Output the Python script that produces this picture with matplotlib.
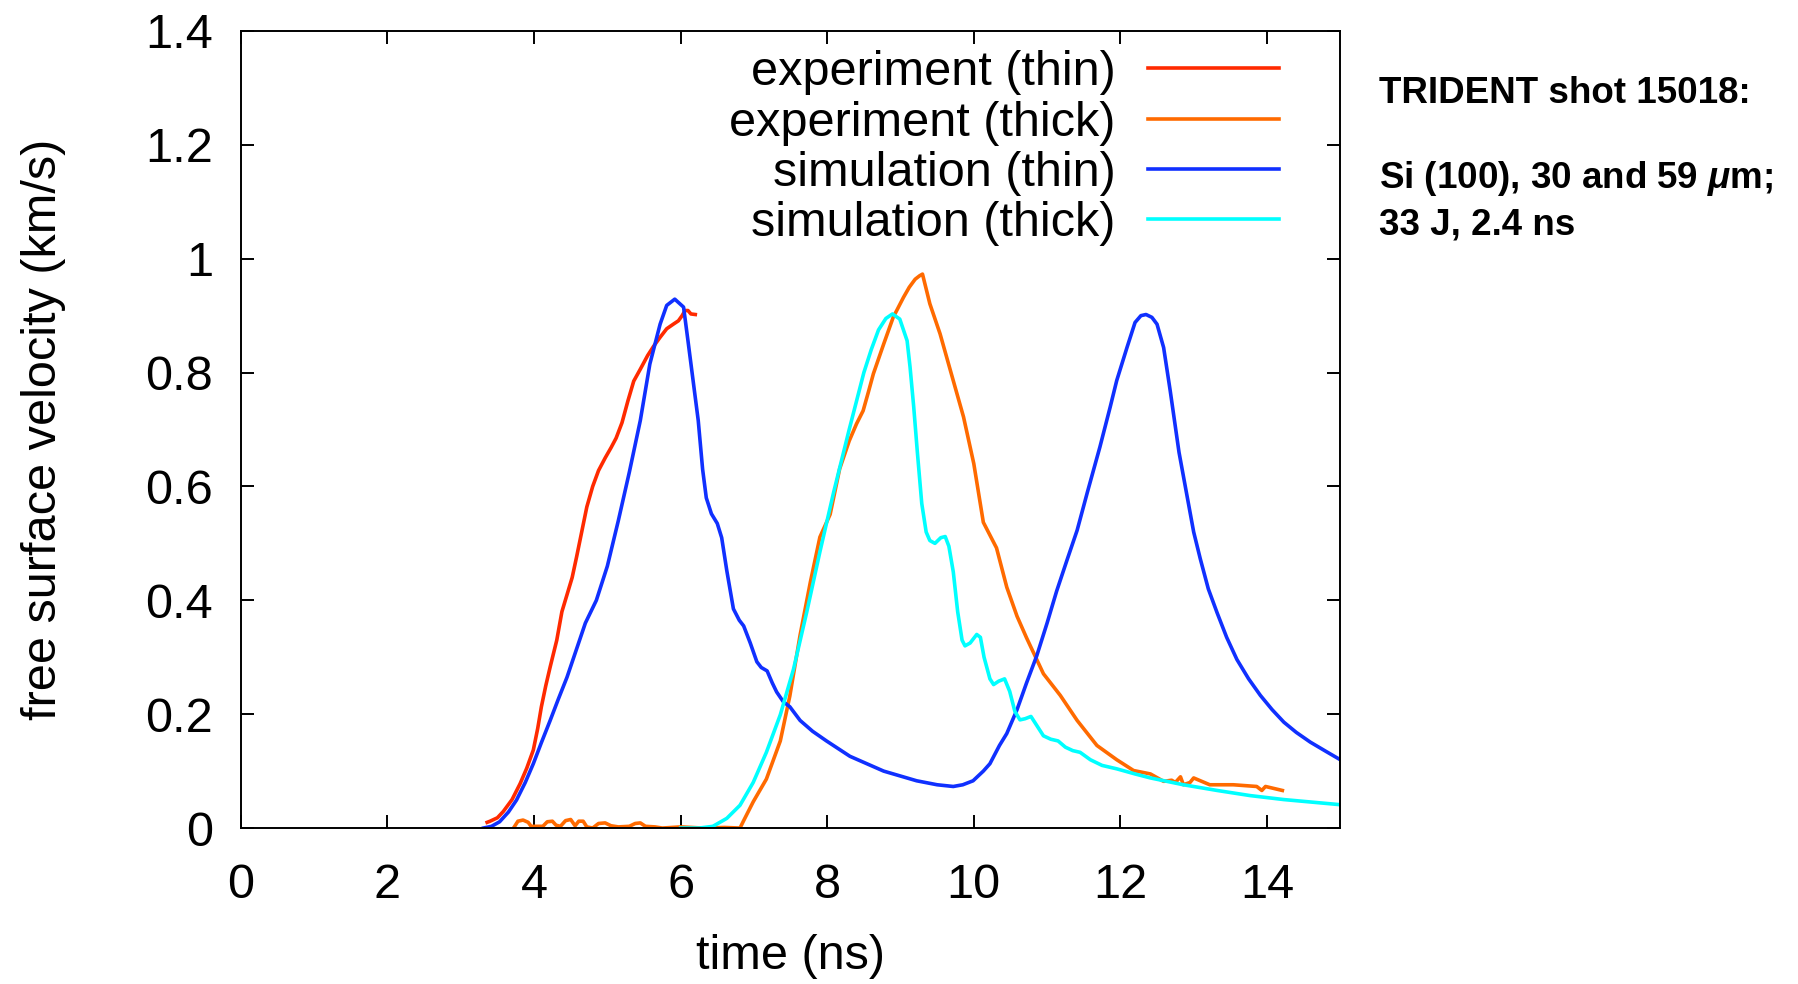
import numpy as np
import matplotlib
matplotlib.use('Agg')
import matplotlib.pyplot as plt

# data (time in ns, velocity in km/s)
t_exp_thin = [3.36, 3.40, 3.50, 3.58, 3.70, 3.81, 3.90, 3.99, 4.05, 4.10, 4.16,
              4.22, 4.31, 4.38, 4.45, 4.52, 4.58, 4.65, 4.72, 4.80, 4.88, 4.97,
              5.05, 5.12, 5.20, 5.28, 5.36, 5.45, 5.55, 5.63, 5.72, 5.81, 5.90,
              5.97, 6.02, 6.06, 6.10, 6.14, 6.20]
v_exp_thin = [0.010, 0.012, 0.018, 0.029, 0.050, 0.078, 0.105, 0.137, 0.175,
              0.213, 0.250, 0.283, 0.330, 0.380, 0.410, 0.440, 0.476, 0.520,
              0.564, 0.600, 0.628, 0.650, 0.668, 0.685, 0.712, 0.750, 0.785,
              0.806, 0.830, 0.846, 0.862, 0.877, 0.885, 0.891, 0.900, 0.909,
              0.909, 0.903, 0.902]

t_exp_thick = [3.72, 3.78, 3.85, 3.92, 3.96, 4.05, 4.12, 4.18, 4.25, 4.30, 4.36,
               4.43, 4.50, 4.56, 4.61, 4.67, 4.72, 4.80, 4.88, 4.97, 5.05, 5.15,
               5.30, 5.38, 5.45, 5.52, 5.65, 5.75, 6.00, 6.30, 6.60, 6.81, 6.86,
               6.99, 7.17, 7.36, 7.49, 7.63, 7.77, 7.90, 8.04, 8.17, 8.30, 8.40,
               8.49, 8.56, 8.63, 8.77, 8.90, 9.04, 9.12, 9.20, 9.26, 9.30, 9.40,
               9.54, 9.68, 9.86, 10.00, 10.13, 10.31, 10.45, 10.59, 10.72, 10.95,
               11.18, 11.41, 11.68, 11.95, 12.18, 12.41, 12.59, 12.70, 12.75,
               12.82, 12.86, 12.95, 13.00, 13.22, 13.54, 13.86, 13.93, 13.98,
               14.21]
v_exp_thick = [0.000, 0.012, 0.014, 0.010, 0.003, 0.003, 0.003, 0.011, 0.012,
               0.005, 0.003, 0.013, 0.015, 0.004, 0.012, 0.012, 0.002, 0.000,
               0.008, 0.009, 0.004, 0.002, 0.003, 0.008, 0.009, 0.003, 0.002,
               0.000, 0.002, 0.000, 0.001, 0.000, 0.013, 0.046, 0.086, 0.153,
               0.232, 0.339, 0.432, 0.511, 0.551, 0.631, 0.680, 0.710, 0.733,
               0.765, 0.798, 0.850, 0.897, 0.932, 0.950, 0.964, 0.970, 0.973,
               0.921, 0.868, 0.804, 0.722, 0.640, 0.537, 0.492, 0.423, 0.372,
               0.334, 0.271, 0.233, 0.189, 0.145, 0.120, 0.101, 0.095, 0.082,
               0.084, 0.080, 0.090, 0.076, 0.080, 0.088, 0.076, 0.076, 0.073,
               0.066, 0.073, 0.066]

t_sim_thin = [3.31, 3.42, 3.53, 3.65, 3.76, 3.88, 3.99, 4.10, 4.22, 4.33, 4.45,
              4.60, 4.70, 4.85, 5.00, 5.15, 5.30, 5.45, 5.58, 5.72, 5.81, 5.92,
              6.04, 6.10, 6.17, 6.24, 6.30, 6.35, 6.42, 6.50, 6.56, 6.63, 6.72,
              6.80, 6.86, 6.95, 7.04, 7.10, 7.18, 7.25, 7.31, 7.40, 7.49, 7.63,
              7.80, 7.99, 8.31, 8.77, 9.22, 9.50, 9.72, 9.85, 9.99, 10.13, 10.22,
              10.35, 10.45, 10.59, 10.72, 10.86, 11.00, 11.13, 11.27, 11.41,
              11.55, 11.72, 11.86, 11.95, 12.09, 12.20, 12.28, 12.35, 12.43,
              12.50, 12.59, 12.68, 12.80, 12.90, 13.00, 13.09, 13.20, 13.32,
              13.45, 13.59, 13.75, 13.91, 14.07, 14.23, 14.40, 14.59, 14.80,
              15.00]
v_sim_thin = [0.000, 0.003, 0.011, 0.028, 0.049, 0.080, 0.113, 0.150, 0.189,
              0.226, 0.265, 0.322, 0.360, 0.400, 0.460, 0.540, 0.625, 0.716,
              0.815, 0.885, 0.918, 0.929, 0.915, 0.856, 0.786, 0.716, 0.630,
              0.580, 0.552, 0.535, 0.510, 0.452, 0.385, 0.365, 0.355, 0.325,
              0.292, 0.282, 0.276, 0.255, 0.239, 0.222, 0.213, 0.189, 0.170,
              0.153, 0.126, 0.100, 0.083, 0.076, 0.073, 0.076, 0.083, 0.100,
              0.113, 0.145, 0.166, 0.208, 0.255, 0.303, 0.360, 0.416, 0.470,
              0.523, 0.590, 0.669, 0.739, 0.786, 0.844, 0.888, 0.900, 0.902,
              0.897, 0.885, 0.844, 0.768, 0.660, 0.590, 0.520, 0.473, 0.420,
              0.378, 0.335, 0.296, 0.262, 0.233, 0.208, 0.186, 0.168, 0.151,
              0.135, 0.120]

t_sim_thick = [6.00, 6.26, 6.44, 6.63, 6.81, 6.99, 7.17, 7.36, 7.54, 7.72, 7.90,
               8.09, 8.30, 8.42, 8.50, 8.60, 8.70, 8.80, 8.89, 8.99, 9.09, 9.13,
               9.18, 9.23, 9.29, 9.35, 9.40, 9.47, 9.55, 9.61, 9.66, 9.72, 9.78,
               9.84, 9.88, 9.95, 10.04, 10.09, 10.14, 10.22, 10.27, 10.34, 10.42,
               10.49, 10.56, 10.63, 10.70, 10.78, 10.86, 10.95, 11.05, 11.15,
               11.25, 11.35, 11.45, 11.59, 11.75, 11.95, 12.20, 12.41, 12.86,
               13.32, 13.77, 14.23, 15.00]
v_sim_thick = [0.000, 0.000, 0.003, 0.017, 0.040, 0.080, 0.133, 0.199, 0.279,
               0.379, 0.485, 0.591, 0.700, 0.760, 0.800, 0.840, 0.875, 0.895,
               0.903, 0.894, 0.856, 0.810, 0.740, 0.660, 0.570, 0.520, 0.505,
               0.500, 0.510, 0.512, 0.495, 0.450, 0.380, 0.330, 0.320, 0.325,
               0.340, 0.335, 0.300, 0.262, 0.252, 0.258, 0.262, 0.240, 0.205,
               0.190, 0.192, 0.196, 0.180, 0.162, 0.156, 0.153, 0.142, 0.136,
               0.133, 0.120, 0.110, 0.104, 0.095, 0.088, 0.076, 0.066, 0.057,
               0.050, 0.041]

labels = ['experiment (thin)', 'experiment (thick)',
          'simulation (thin)', 'simulation (thick)']
colors = ['#ff2a00', '#ff6a00', '#1030ff', '#00ffff']

plt.rcParams['font.family'] = ['Liberation Sans', 'DejaVu Sans']
plt.rcParams['mathtext.fontset'] = 'custom'
plt.rcParams['mathtext.it'] = 'Liberation Sans:italic:bold'

fig = plt.figure(figsize=(17.99, 9.84), dpi=100)
ax = fig.add_axes([0.1339, 0.1585, 0.6111, 0.8100])

series = [(t_exp_thin, v_exp_thin), (t_exp_thick, v_exp_thick),
          (t_sim_thin, v_sim_thin), (t_sim_thick, v_sim_thick)]
for (t, v), lab, c in zip(series, labels, colors):
    ax.plot(t, v, color=c, lw=2.6, label=lab, solid_joinstyle='round')

ax.set_xlim(0, 15)
ax.set_ylim(0, 1.4)
ax.set_xticks(np.arange(0, 15, 2))
ax.set_yticks(np.arange(0, 1.41, 0.2))
ax.set_yticklabels(['0', '0.2', '0.4', '0.6', '0.8', '1', '1.2', '1.4'])
ax.tick_params(direction='in', length=9.5, width=1.4, labelsize=35,
               top=True, right=True)
ax.tick_params(axis='y', pad=20)
ax.tick_params(axis='x', pad=25)
for s in ax.spines.values():
    s.set_linewidth(1.4)

ax.set_xlabel('time (ns)', fontsize=35, labelpad=19)
ax.set_ylabel('free surface velocity (km/s)', fontsize=35, labelpad=57)

ax.legend(loc='upper right', bbox_to_anchor=(0.9445, 0.9756), frameon=False,
          markerfirst=False, fontsize=35, handlelength=2.71,
          handletextpad=0.66, labelspacing=0.106, borderpad=0,
          borderaxespad=0)

fig.text(0.7665, 0.8951, 'TRIDENT shot 15018:', fontsize=26.5,
         fontweight='bold', va='baseline')
fig.text(0.7665, 0.8087, r'Si (100), 30 and 59 $\mu$m;', fontsize=26.5,
         fontweight='bold', va='baseline')
fig.text(0.7665, 0.7619, '33 J, 2.4 ns', fontsize=26.5,
         fontweight='bold', va='baseline')

fig.savefig('out.png', dpi=100)
